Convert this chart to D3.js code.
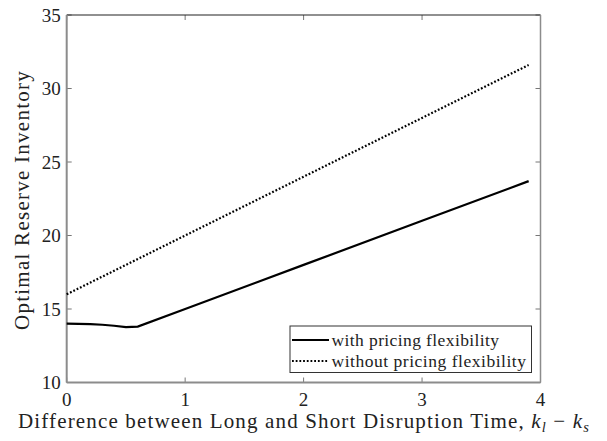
<!DOCTYPE html>
<html><head><meta charset="utf-8">
<script src="https://cdn.jsdelivr.net/npm/d3@7"></script>
<style>body{margin:0;background:#fff}svg{display:block}text{font-family:"Liberation Serif","DejaVu Serif",serif;fill:#222}</style>
</head><body><svg id="c" width="607" height="441"></svg>
<script>
const xTicks=[0,1,2,3,4];
const yTicks=[10,15,20,25,30,35];
const withX=[0,0.1,0.2,0.3,0.4,0.5,0.6,1,2,3,3.9];
const withY=[14.0,13.99,13.97,13.93,13.86,13.77,13.8,15.0,18.0,21.0,23.7];
const withoutX=[0,1,2,3,3.9];
const withoutY=[16,20,24,28,31.6];
const legendLabels=["with pricing flexibility","without pricing flexibility"];

const svg=d3.select("#c");
const L=66.7,R=540.5,T=15,B=382.5;
const x=d3.scaleLinear().domain([0,4]).range([L,R]);
const y=d3.scaleLinear().domain([10,35]).range([B,T]);

function fit(sel,target){
  const n=sel.text().length;
  const w=sel.node().getComputedTextLength();
  sel.attr("letter-spacing",((target-w)/n).toFixed(3));
}

const g=svg.append("g");
xTicks.forEach(t=>{
  g.append("line").attr("x1",x(t)).attr("x2",x(t)).attr("y1",B).attr("y2",B-5).attr("stroke","#777");
  g.append("line").attr("x1",x(t)).attr("x2",x(t)).attr("y1",T).attr("y2",T+5).attr("stroke","#777");
  g.append("text").attr("x",x(t)).attr("y",B+23.5).attr("text-anchor","middle").attr("font-size",19).text(t);
});
yTicks.forEach(t=>{
  g.append("line").attr("x1",L).attr("x2",L+5).attr("y1",y(t)).attr("y2",y(t)).attr("stroke","#777");
  g.append("line").attr("x1",R).attr("x2",R-5).attr("y1",y(t)).attr("y2",y(t)).attr("stroke","#777");
  g.append("text").attr("x",L-6).attr("y",y(t)+6.5).attr("text-anchor","end").attr("font-size",19).text(t);
});
svg.append("line").attr("x1",L).attr("x2",R).attr("y1",T).attr("y2",T).attr("stroke","#222").attr("stroke-width",1.2);
svg.append("line").attr("x1",R).attr("x2",R).attr("y1",T).attr("y2",B).attr("stroke","#8c8c8c").attr("stroke-width",1.5);
svg.append("line").attr("x1",L).attr("x2",L).attr("y1",T).attr("y2",B).attr("stroke","#8c8c8c").attr("stroke-width",2);
svg.append("line").attr("x1",L).attr("x2",R).attr("y1",B).attr("y2",B).attr("stroke","#8c8c8c").attr("stroke-width",2);

const line=d3.line().x(d=>x(d[0])).y(d=>y(d[1]));
svg.append("path").datum(withX.map((v,i)=>[v,withY[i]])).attr("d",line)
  .attr("fill","none").attr("stroke","#000").attr("stroke-width",2.2);
svg.append("path").datum(withoutX.map((v,i)=>[v,withoutY[i]])).attr("d",line)
  .attr("fill","none").attr("stroke","#000").attr("stroke-width",2.2).attr("stroke-dasharray","1.8,1.9");

const lg=svg.append("g");
lg.append("rect").attr("x",290).attr("y",326).attr("width",241.5).attr("height",46.5).attr("fill","#fff").attr("stroke","#333").attr("stroke-width",1);
lg.append("line").attr("x1",292).attr("x2",329).attr("y1",340).attr("y2",340).attr("stroke","#000").attr("stroke-width",2.2);
lg.append("line").attr("x1",292).attr("x2",329).attr("y1",361).attr("y2",361).attr("stroke","#000").attr("stroke-width",2.2).attr("stroke-dasharray","1.8,1.9");
const l1=lg.append("text").attr("x",331.5).attr("y",345.5).attr("font-size",17.5).text(legendLabels[0]);
const l2=lg.append("text").attr("x",331.5).attr("y",366.5).attr("font-size",17.5).text(legendLabels[1]);
fit(l1,168); fit(l2,195);

const yt=svg.append("text").attr("transform","translate(29,200) rotate(-90)").attr("text-anchor","middle").attr("font-size",21).text("Optimal Reserve Inventory");
fit(yt,260);
const xt=svg.append("text").attr("x",304).attr("y",428).attr("text-anchor","middle").attr("font-size",21);
xt.append("tspan").text("Difference between Long and Short Disruption Time, ");
xt.append("tspan").attr("font-style","italic").text("k");
xt.append("tspan").attr("font-style","italic").attr("font-size",14.5).attr("dy",4).text("l");
xt.append("tspan").attr("dy",-4).text(" − ");
xt.append("tspan").attr("font-style","italic").text("k");
xt.append("tspan").attr("font-style","italic").attr("font-size",14.5).attr("dy",4).text("s");
fit(xt,572);
</script></body></html>
